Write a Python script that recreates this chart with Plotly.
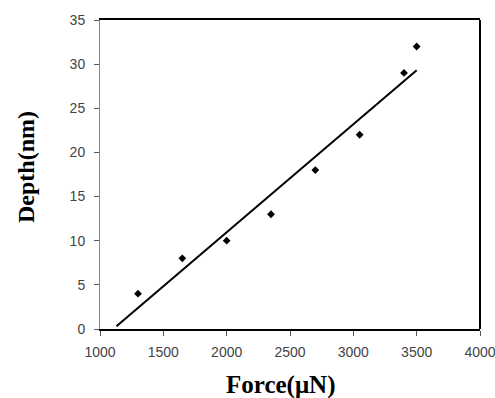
import numpy as np
import plotly.graph_objects as go

force = [1300, 1650, 2000, 2350, 2700, 3050, 3400, 3500]
depth = [4, 8, 10, 13, 18, 22, 29, 32]
trend_x = [1130, 3500]
x_ticks = [1000, 1500, 2000, 2500, 3000, 3500, 4000]
y_ticks = [0, 5, 10, 15, 20, 25, 30, 35]

slope, intercept = np.polyfit(force, depth, 1)
trend_y = [slope * x + intercept for x in trend_x]

fig = go.Figure()
fig.add_trace(go.Scatter(x=trend_x, y=trend_y, mode="lines",
                         line=dict(color="black", width=2), showlegend=False))
fig.add_trace(go.Scatter(x=force, y=depth, mode="markers",
                         marker=dict(symbol="diamond", size=6, color="black"),
                         showlegend=False))

tickfont = dict(family="Liberation Sans", size=14, color="#444444")
L, R, T, B = 100, 15, 20, 69
W, H = 495, 398
pw, ph = W - L - R, H - T - B

fig.update_layout(
    width=W, height=H,
    margin=dict(l=L, r=R, t=T, b=B),
    paper_bgcolor="white", plot_bgcolor="white",
    xaxis=dict(range=[1000, 4000], tickvals=x_ticks, ticks="outside", ticklen=5,
               tickcolor="#555555", showline=True, linecolor="black", linewidth=2,
               mirror=True, showgrid=False, zeroline=False, tickfont=tickfont,
               ticklabelstandoff=4, ticklabeloverflow="allow", automargin=False),
    yaxis=dict(range=[0, 35], tickvals=y_ticks, ticks="outside", ticklen=5,
               tickcolor="#555555", showline=True, linecolor="#888888", linewidth=1,
               mirror=False, showgrid=False, zeroline=False, tickfont=tickfont,
               ticklabelstandoff=6, ticklabeloverflow="allow", automargin=False),
    shapes=[dict(type="line", xref="paper", yref="paper", x0=1, x1=1, y0=0, y1=1,
                 line=dict(color="black", width=2))],
    annotations=[
        dict(text="<b>Force(μN)</b>", xref="paper", yref="paper",
             x=(281 - L) / pw, y=-(385 - (T + ph)) / ph, showarrow=False,
             xanchor="center", yanchor="middle",
             font=dict(family="Liberation Serif", size=25, color="black")),
        dict(text="<b>Depth(nm)</b>", xref="paper", yref="paper",
             x=(26 - L) / pw, y=((T + ph) - 167) / ph, showarrow=False,
             xanchor="center", yanchor="middle", textangle=-90,
             font=dict(family="Liberation Serif", size=24, color="black")),
    ],
)
fig.write_html("out.html", config={"displayModeBar": False},
               post_script="document.body.style.margin='0';")
